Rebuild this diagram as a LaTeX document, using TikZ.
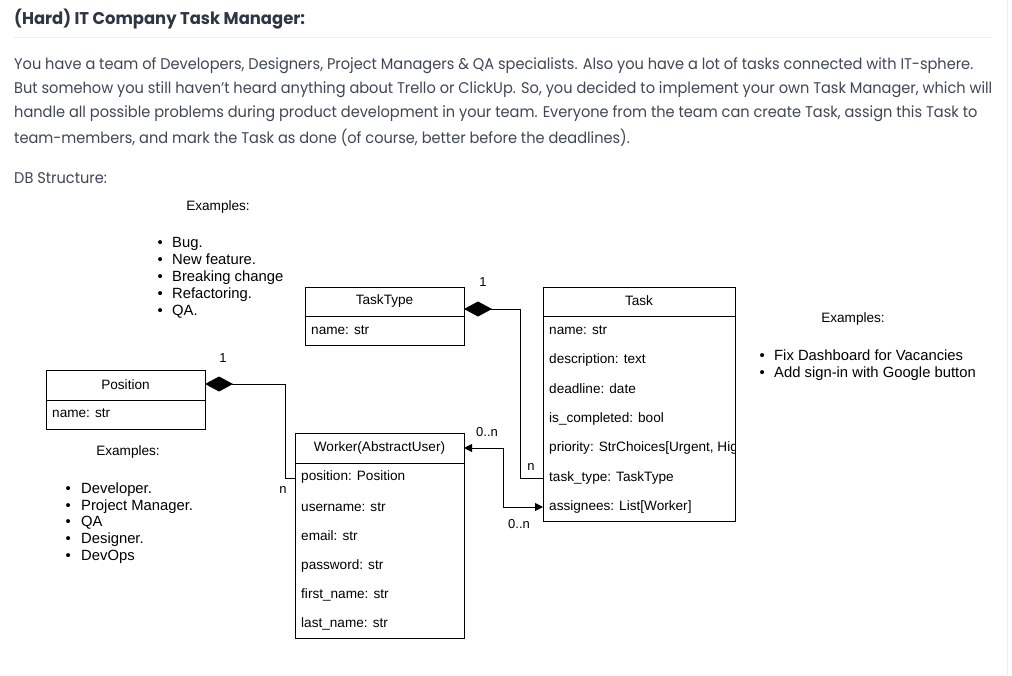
\documentclass[tikz,border=0pt]{standalone}
\usepackage{fontspec}
\setmainfont[FakeStretch=0.94]{Poppins}
\newfontfamily\titlefont[FakeStretch=0.965]{Poppins}
\newfontfamily\dg{Liberation Sans}
\usetikzlibrary{arrows.meta}
\definecolor{bodyc}{HTML}{3F4655}
\definecolor{titlec}{HTML}{2E3544}
\definecolor{sepc}{HTML}{ECEDEF}
\newcommand{\blt}[2]{\makebox[#1][l]{•}#2}
\begin{document}
\begin{tikzpicture}[x=1pt,y=-1pt,
  body/.style={anchor=west,inner sep=0,text=bodyc,font=\fontsize{15.5}{18}\selectfont},
  dtext/.style={inner sep=0,font=\dg\fontsize{13.6}{15}\selectfont},
  dleft/.style={dtext,anchor=west},
  ltext/.style={inner sep=0,anchor=base west,font=\dg\fontsize{14.8}{17}\selectfont},
  mult/.style={inner sep=0,font=\dg\fontsize{13}{15}\selectfont},
  box/.style={draw,line width=1pt,inner sep=0,anchor=north west},
  conn/.style={line width=1pt},
  comp/.style={conn,{Diamond[length=28pt,width=15pt]}-}
]
\useasboundingbox (0,0) rectangle (1012,675);
\fill[white] (0,0) rectangle (1012,675);
\draw[sepc,line width=1pt] (1007,0) -- (1007,675);
% header
\node[anchor=west,inner sep=0,text=titlec,font=\titlefont\bfseries\fontsize{17}{20}\selectfont] (title) at (14,19) {(Hard) IT Company Task Manager:};
\draw[sepc,line width=1pt] (14,37) -- (992,37);
\node[body] (l1) at (14,66) {You have a team of Developers, Designers, Project Managers \& QA specialists. Also you have a lot of tasks connected with IT-sphere.};
\node[body] (l2) at (14,90) {But somehow you still haven't heard anything about Trello or ClickUp. So, you decided to implement your own Task Manager, which will};
\node[body] (l3) at (14,114) {handle all possible problems during product development in your team. Everyone from the team can create Task, assign this Task to};
\node[body] (l4) at (14,138) {team-members, and mark the Task as done (of course, better before the deadlines).};
\node[body] (dbs) at (14,178) {DB Structure:};

% TaskType
\node[box,minimum width=159pt,minimum height=58pt] (tasktype) at (305,287) {};
\draw[line width=1pt] (305,316) -- (464,316);
\node[dtext] (ttn) at (384.5,301) {TaskType};
\node[dleft] (ttf) at (311,330) {name: str};

% Task
\node[box,minimum width=192pt,minimum height=234pt] (task) at (543,287) {};
\draw[line width=1pt] (543,316) -- (735,316);
\node[dtext] (tn) at (639,301) {Task};
\begin{scope}
\clip (544,316) rectangle (734,520);
\node[dleft] (t1) at (549,330) {name: str};
\node[dleft] (t2) at (549,360) {description: text};
\node[dleft] (t3) at (549,389) {deadline: date};
\node[dleft] (t4) at (549,419) {is\_completed: bool};
\node[dleft] (t5) at (549,448) {priority: StrChoices[Urgent, High, Medium, Low]};
\node[dleft] (t6) at (549,478) {task\_type: TaskType};
\node[dleft] (t7) at (549,507) {assignees: List[Worker]};
\end{scope}

% Position
\node[box,minimum width=159pt,minimum height=59pt] (position) at (46,370) {};
\draw[line width=1pt] (46,400) -- (205,400);
\node[dtext] (pn) at (125.5,385) {Position};
\node[dleft] (pf) at (52,413) {name: str};

% Worker
\node[box,minimum width=169pt,minimum height=205pt] (worker) at (295,433) {};
\draw[line width=1pt] (295,463) -- (464,463);
\node[dtext] (wn) at (379.5,448) {Worker(AbstractUser)};
\node[dleft] (w1) at (301,477) {position: Position};
\node[dleft] (w2) at (301,507) {username: str};
\node[dleft] (w3) at (301,536) {email: str};
\node[dleft] (w4) at (301,566) {password: str};
\node[dleft] (w5) at (301,595) {first\_name: str};
\node[dleft] (w6) at (301,624) {last\_name: str};

% connector points
\coordinate (ttR) at (464,309);
\coordinate (tTT) at (543,478);
\coordinate (posR) at (205,384);
\coordinate (wPos) at (295,478);
\coordinate (wR) at (464,448);
\coordinate (tAs) at (543,507);

\draw[comp] (ttR) -- (520,309) |- (tTT);
\draw[comp] (posR) -- (285,384) |- (wPos);
\draw[conn,{Triangle[length=8pt,width=8pt]}-{Triangle[length=8pt,width=8pt]}] (wR) -- (503,448) |- (tAs);

\node[mult] (m1) at (483,282) {1};
\node[mult] (m2) at (531,467) {n};
\node[mult] (m3) at (223,358) {1};
\node[mult] (m4) at (283,490) {n};
\node[mult] (m5) at (487,432) {0..n};
\node[mult] (m6) at (519,524) {0..n};

% examples task types
\node[dtext] (ex1) at (218,207) {Examples:};
\foreach \t [count=\i] in {Bug.,New feature.,Breaking change,Refactoring.,QA.} {
  \node[ltext] (e1\i) at (157.5,230.5+17*\i) {\blt{14.5pt}{\t}};
}
% examples position
\node[dtext] (ex2) at (128,452) {Examples:};
\foreach \t [count=\i] in {Developer.,Project Manager.,QA,Designer.,DevOps} {
  \node[ltext] (e2\i) at (65.5,476.5+16.75*\i) {\blt{15.5pt}{\t}};
}
% examples task
\node[dtext] (ex3) at (853,319) {Examples:};
\node[ltext] (e31) at (759.5,360) {\blt{14.5pt}{Fix Dashboard for Vacancies}};
\node[ltext] (e32) at (759.5,377) {\blt{14.5pt}{Add sign-in with Google button}};
\end{tikzpicture}
\end{document}
